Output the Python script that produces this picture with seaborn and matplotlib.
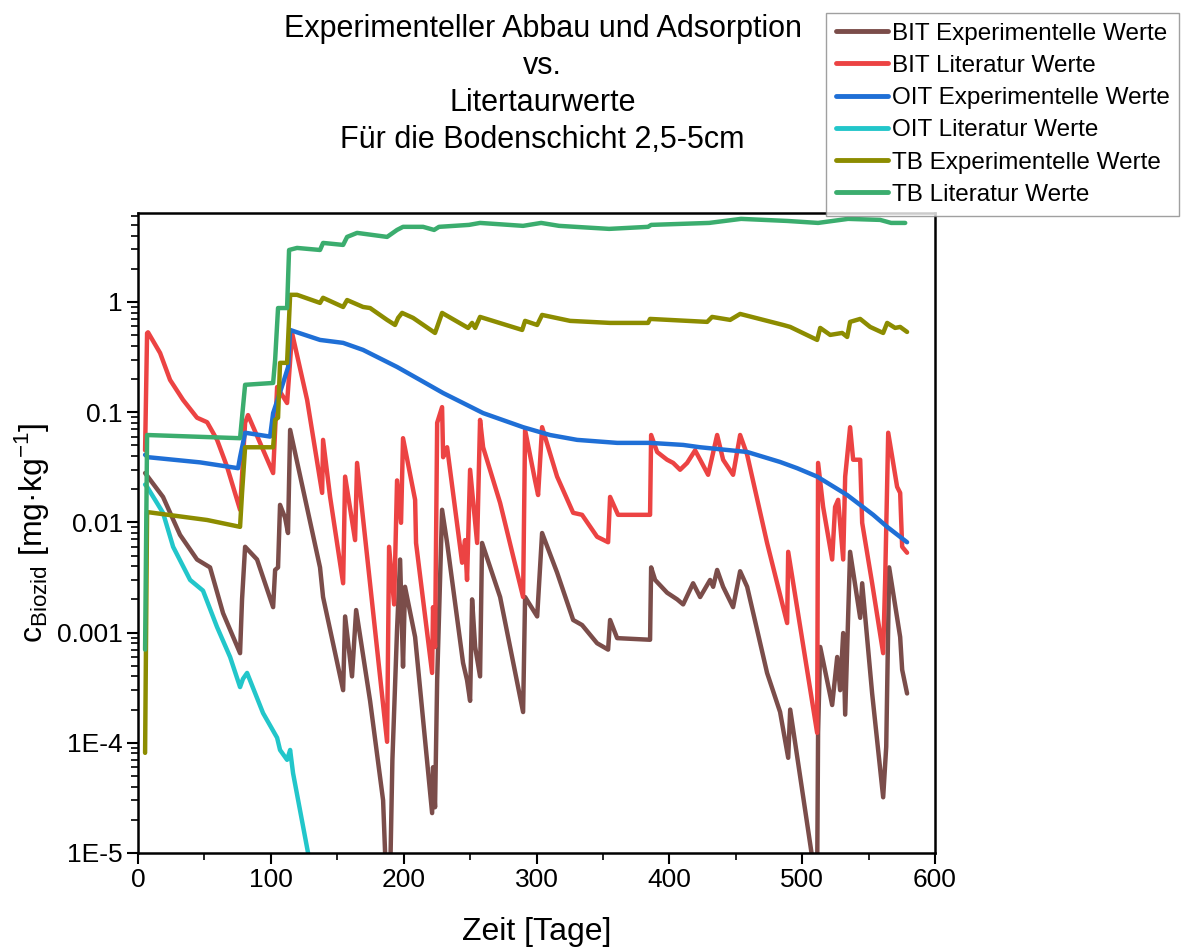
import numpy as np
import pandas as pd
import seaborn as sns
import matplotlib
matplotlib.use("Agg")
import matplotlib.pyplot as plt
from matplotlib.ticker import LogLocator, MultipleLocator, NullFormatter

# Daten: Zeit [Tage] und c_Biozid [mg/kg]
bit_exp_t = [5.3, 18.8, 31.6, 44.4, 54.2, 64.0, 76.8, 78.3, 80.6, 89.6, 101.7, 103.2, 105.4, 106.9,
             110.7, 112.9, 114.5, 137.0, 139.3, 154.4, 155.9, 161.1, 164.2, 174.7, 184.5, 186.7,
             189.8, 191.5, 195.0, 197.3, 199.5, 201.0, 208.6, 221.4, 222.1, 223.6, 225.2, 228.9,
             232.7, 244.7, 247.7, 250.0, 251.5, 253.8, 257.5, 259.0, 272.6, 289.9, 291.4, 300.5,
             304.2, 315.5, 327.6, 334.3, 345.6, 353.9, 355.4, 360.7, 385.5, 386.3, 389.3, 398.3,
             405.9, 410.4, 417.9, 423.2, 430.7, 433.0, 436.0, 440.5, 448.0, 453.3, 458.6, 473.6,
             483.4, 489.5, 491.0, 509.8, 511.3, 512.0, 513.6, 522.6, 526.4, 528.6, 530.9, 532.4,
             536.1, 543.7, 545.2, 552.7, 561.0, 563.3, 565.5, 573.8, 575.3, 579.0]
bit_exp_c = [0.028, 0.017, 0.0077, 0.0046, 0.0039, 0.0015, 0.00065, 0.0020, 0.0060, 0.0046, 0.0017,
             0.0037, 0.0039, 0.0144, 0.011, 0.0080, 0.069, 0.0039, 0.0021, 0.00030, 0.0014, 0.00040,
             0.0016, 0.00024, 3.0e-5, 6e-6, 6e-6, 7e-5, 0.00106, 0.0046, 0.00049, 0.0026, 0.00091,
             2.3e-5, 6.0e-5, 2.6e-5, 0.00037, 0.013, 0.0065, 0.00053, 0.00037, 0.00024, 0.0020,
             0.00074, 0.00040, 0.0065, 0.0021, 0.00019, 0.0021, 0.0014, 0.0080, 0.0035, 0.0013,
             0.00117, 0.00080, 0.00070, 0.0013, 0.00089, 0.00086, 0.0039, 0.0030, 0.0023, 0.0020,
             0.0018, 0.0028, 0.0021, 0.0030, 0.0026, 0.0037, 0.0026, 0.0017, 0.0036, 0.0026,
             0.00043, 0.00019, 7.3e-5, 0.00020, 6e-6, 6e-6, 0.000123, 0.00074, 0.00022, 0.00060,
             0.00030, 0.00099, 0.00018, 0.0054, 0.00136, 0.0028, 0.00028, 3.2e-5, 9.2e-5, 0.0039,
             0.00091, 0.00046, 0.00028]

bit_lit_t = [5.3, 6.8, 7.5, 16.6, 24.1, 33.9, 44.4, 52.0, 59.5, 67.0, 76.8, 80.6, 82.8, 101.7, 104.7,
             112.2, 116.0, 127.3, 138.6, 139.3, 144.6, 154.4, 155.9, 163.4, 164.9, 187.5, 189.0,
             192.8, 195.0, 198.0, 199.5, 208.6, 209.3, 221.4, 222.1, 223.6, 225.2, 228.9, 229.7,
             232.7, 244.0, 246.2, 247.7, 250.0, 255.3, 257.5, 259.8, 272.6, 289.9, 291.4, 298.9,
             301.2, 304.2, 315.5, 327.6, 334.3, 345.6, 353.9, 355.4, 361.4, 385.5, 386.3, 390.8,
             398.3, 402.9, 408.1, 413.4, 419.4, 423.2, 429.2, 436.0, 440.5, 448.0, 453.3, 458.6,
             473.6, 488.7, 489.5, 511.3, 512.0, 515.8, 522.6, 524.8, 527.1, 530.9, 532.4, 536.1,
             538.4, 543.7, 545.2, 552.7, 561.0, 562.5, 564.8, 571.5, 573.8, 575.3, 579.0]
bit_lit_c = [0.045, 0.52, 0.53, 0.344, 0.196, 0.129, 0.089, 0.081, 0.056, 0.032, 0.013, 0.080, 0.094,
             0.028, 0.169, 0.121, 0.52, 0.129, 0.0185, 0.056, 0.017, 0.0028, 0.026, 0.0069, 0.0346,
             0.000102, 0.0060, 0.0018, 0.024, 0.0099, 0.058, 0.016, 0.0065, 0.00043, 0.0017,
             0.00074, 0.080, 0.111, 0.039, 0.048, 0.0043, 0.0069, 0.0030, 0.030, 0.0065, 0.085,
             0.048, 0.015, 0.0021, 0.069, 0.024, 0.0177, 0.073, 0.026, 0.0122, 0.0117, 0.0074,
             0.0066, 0.017, 0.0117, 0.0117, 0.062, 0.0435, 0.037, 0.0346, 0.030, 0.0346, 0.045,
             0.037, 0.027, 0.062, 0.037, 0.027, 0.062, 0.041, 0.0065, 0.00122, 0.0054, 0.000123,
             0.0346, 0.0138, 0.0046, 0.0138, 0.016, 0.0046, 0.026, 0.073, 0.037, 0.037, 0.0099,
             0.0028, 0.00065, 0.0030, 0.065, 0.021, 0.0185, 0.0060, 0.0053]

oit_exp_t = [5.3, 7.5, 46.7, 75.3, 76.8, 80.6, 99.4, 101.7, 109.2, 113.0, 114.5, 119.7, 137.0, 154.4,
             169.4, 195.0, 212.3, 229.7, 244.7, 259.8, 289.9, 310.2, 330.6, 360.7, 385.5, 410.4,
             423.2, 458.6, 483.4, 496.2, 511.3, 533.9, 553.5, 564.0, 579.0]
oit_exp_c = [0.041, 0.039, 0.035, 0.031, 0.039, 0.065, 0.060, 0.098, 0.184, 0.257, 0.557, 0.53, 0.452,
             0.425, 0.367, 0.257, 0.196, 0.149, 0.121, 0.098, 0.073, 0.062, 0.056, 0.0526, 0.0526,
             0.0504, 0.048, 0.0435, 0.0353, 0.031, 0.026, 0.0177, 0.0117, 0.0091, 0.0066]

oit_lit_t = [5.3, 6.8, 18.8, 26.4, 39.2, 48.9, 59.5, 69.3, 76.8, 79.0, 82.1, 94.1, 104.7, 106.9,
             112.2, 114.5, 116.7, 128.0, 131.0]
oit_lit_c = [0.022, 0.021, 0.0122, 0.0060, 0.0030, 0.0024, 0.00112, 0.0006, 0.00032, 0.00038,
             0.00043, 0.000186, 0.000111, 8.6e-5, 7.0e-5, 8.6e-5, 5.3e-5, 1.0e-5, 7e-6]

tb_exp_t = [5.3, 6.8, 52.0, 76.8, 78.3, 80.6, 101.7, 103.2, 105.4, 106.9, 112.2, 114.5, 119.7, 137.0,
            139.3, 154.4, 157.4, 169.4, 174.7, 187.5, 193.5, 195.8, 198.8, 207.1, 223.6, 225.2,
            228.9, 248.5, 251.5, 253.8, 257.5, 289.2, 291.4, 300.5, 304.2, 325.3, 355.4, 384.0,
            385.5, 428.5, 432.2, 445.8, 453.3, 485.7, 491.0, 511.3, 513.6, 521.1, 530.1, 533.9,
            536.1, 543.7, 551.2, 561.0, 564.0, 570.0, 573.8, 579.0]
tb_exp_c = [8.1e-5, 0.0124, 0.0105, 0.0091, 0.0185, 0.048, 0.048, 0.085, 0.089, 0.28, 0.28, 1.16,
            1.16, 0.98, 1.09, 0.90, 1.04, 0.90, 0.88, 0.687, 0.618, 0.716, 0.795, 0.716, 0.523,
            0.593, 0.795, 0.581, 0.645, 0.581, 0.731, 0.557, 0.673, 0.618, 0.762, 0.673, 0.645,
            0.645, 0.701, 0.659, 0.731, 0.687, 0.778, 0.618, 0.593, 0.452, 0.581, 0.502, 0.523,
            0.481, 0.659, 0.701, 0.593, 0.523, 0.645, 0.581, 0.593, 0.534]

tb_lit_t = [5.3, 6.8, 76.8, 78.3, 80.6, 101.7, 103.2, 105.4, 112.2, 113.7, 119.7, 137.0, 139.3,
            154.4, 157.4, 164.9, 187.5, 195.0, 199.5, 214.6, 222.9, 226.6, 249.2, 257.5, 289.9,
            303.5, 317.0, 354.7, 384.0, 386.3, 430.0, 454.0, 488.7, 512.0, 534.6, 558.7, 567.0,
            577.6]
tb_lit_c = [0.0007, 0.062, 0.058, 0.090, 0.177, 0.184, 0.298, 0.88, 0.88, 2.96, 3.09, 2.96, 3.43,
            3.29, 3.89, 4.23, 3.89, 4.50, 4.80, 4.80, 4.50, 4.80, 5.00, 5.21, 4.90, 5.21, 4.90,
            4.60, 4.80, 5.00, 5.21, 5.67, 5.43, 5.21, 5.67, 5.55, 5.21, 5.21]

series = [
    ("BIT Experimentelle Werte", bit_exp_t, bit_exp_c, "#7B4D4A"),
    ("BIT Literatur Werte", bit_lit_t, bit_lit_c, "#EC4343"),
    ("OIT Experimentelle Werte", oit_exp_t, oit_exp_c, "#1F6FD6"),
    ("OIT Literatur Werte", oit_lit_t, oit_lit_c, "#22C6CA"),
    ("TB Experimentelle Werte", tb_exp_t, tb_exp_c, "#8C8C00"),
    ("TB Literatur Werte", tb_lit_t, tb_lit_c, "#3BAD6E"),
]

sns.set_style("ticks")
plt.rcParams['font.family'] = ['Liberation Sans', 'DejaVu Sans']
plt.rcParams['mathtext.fontset'] = 'custom'
plt.rcParams['mathtext.rm'] = 'Liberation Sans'
plt.rcParams['text.color'] = 'black'
plt.rcParams['axes.labelcolor'] = 'black'
plt.rcParams['xtick.color'] = 'black'
plt.rcParams['ytick.color'] = 'black'

fig = plt.figure(figsize=(11.85, 9.47), dpi=100)
ax = fig.add_axes([0.1165, 0.0993, 0.6725, 0.6757])

for name, t, c, col in series:
    df = pd.DataFrame({"Zeit": t, "c": c})
    sns.lineplot(data=df, x="Zeit", y="c", ax=ax, sort=False, estimator=None,
                 color=col, lw=3.2, label=name)

ax.set_yscale('log')
ax.set_xlim(0, 600)
ax.set_ylim(1e-5, 6.4)
ax.xaxis.set_major_locator(MultipleLocator(100))
ax.xaxis.set_minor_locator(MultipleLocator(50))
ax.set_yticks([1e-5, 1e-4, 1e-3, 1e-2, 1e-1, 1],
              ["1E-5", "1E-4", "0.001", "0.01", "0.1", "1"])
ax.yaxis.set_minor_locator(LogLocator(base=10, subs=np.arange(2, 10)))
ax.yaxis.set_minor_formatter(NullFormatter())
ax.tick_params(axis='both', which='major', direction='out', length=8, width=1.5,
               labelsize=19, pad=3)
ax.tick_params(axis='both', which='minor', direction='out', length=5, width=1.2)
for s in ax.spines.values():
    s.set_linewidth(1.8)
    s.set_color('black')

ax.set_xlabel("Zeit [Tage]", fontsize=23, labelpad=18)
ax.set_ylabel(r"c$_\mathregular{Biozid}$ [mg·kg$^\mathregular{-1}$]", fontsize=23, labelpad=4)

handles, labels = ax.get_legend_handles_labels()
ax.legend_.remove()
leg = fig.legend(handles, labels, loc='upper left', bbox_to_anchor=(826 / 1185, 1 - 13 / 947),
                 fontsize=17.5, frameon=True, fancybox=False, edgecolor='#888888',
                 handlelength=2.15, handletextpad=0.15, labelspacing=0.42, borderpad=0.4,
                 borderaxespad=0)
leg.get_frame().set_linewidth(1.0)
for line in leg.get_lines():
    line.set_linewidth(3.5)

fig.text(0.458, 1 - 14 / 947,
         "Experimenteller Abbau und Adsorption\nvs.\nLitertaurwerte\nFür die Bodenschicht 2,5-5cm",
         ha='center', va='top', fontsize=22, linespacing=1.31, multialignment='center')

fig.savefig("out.png", dpi=100)
